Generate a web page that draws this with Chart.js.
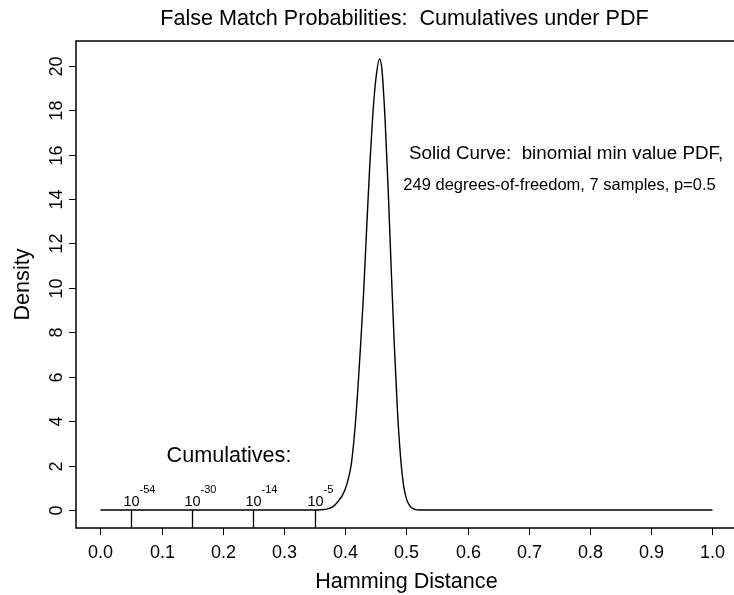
<!DOCTYPE html>
<html>
<head>
<meta charset="utf-8">
<script src="https://cdn.jsdelivr.net/npm/chart.js@4.4.1/dist/chart.umd.min.js"></script>
<style>
  html, body { margin: 0; padding: 0; background: #fff; overflow: hidden; }
  canvas { display: block; }
</style>
</head>
<body>
<canvas id="chart" width="734" height="595"></canvas>
<script>
// Hamming distance grid and density of the solid curve
const hdX = [0, 0.35, 0.36, 0.37, 0.38, 0.385, 0.39, 0.395, 0.40, 0.405, 0.41, 0.415, 0.42, 0.425,
  0.43, 0.435, 0.44, 0.445, 0.45, 0.456, 0.46, 0.465, 0.47, 0.475, 0.48, 0.485, 0.49, 0.495,
  0.50, 0.505, 0.51, 0.515, 0.52, 1.0];
const density = [0, 0, 0.01, 0.04, 0.15, 0.28, 0.45, 0.65, 0.95, 1.4, 2.1, 3.4, 5.2, 7.4,
  9.8, 12.7, 15.5, 17.8, 19.4, 20.3, 19.8, 17.6, 14.5, 10.9, 7.5, 4.6, 2.5, 1.15,
  0.5, 0.2, 0.07, 0.02, 0, 0];

// cumulative markers
const cumX = [0.05, 0.15, 0.25, 0.35];
const cumExp = ["-54", "-30", "-14", "-5"];

// axis ticks
const xTicks = [0.0, 0.1, 0.2, 0.3, 0.4, 0.5, 0.6, 0.7, 0.8, 0.9, 1.0];
const yTicks = [0, 2, 4, 6, 8, 10, 12, 14, 16, 18, 20];

const FONT = '"Liberation Sans", Arial, Helvetica, sans-serif';

// R-style frame, ticks, labels and annotations
const rPlot = {
  id: "rPlot",
  afterDraw(chart) {
    const ctx = chart.ctx;
    const a = chart.chartArea;
    const xs = chart.scales.x;
    const ys = chart.scales.y;
    ctx.save();
    ctx.strokeStyle = "#000";
    ctx.fillStyle = "#000";

    // box (right edge falls just off the canvas)
    ctx.lineWidth = 1.5;
    ctx.beginPath();
    ctx.moveTo(chart.width + 2, a.top);
    ctx.lineTo(a.left, a.top);
    ctx.lineTo(a.left, a.bottom);
    ctx.lineTo(chart.width + 2, a.bottom);
    ctx.stroke();

    // x axis ticks
    ctx.lineWidth = 1;
    ctx.font = "18px " + FONT;
    ctx.textAlign = "center";
    ctx.textBaseline = "alphabetic";
    xTicks.forEach(function (t) {
      const px = Math.round(xs.getPixelForValue(t)) + 0.5;
      ctx.beginPath();
      ctx.moveTo(px, a.bottom);
      ctx.lineTo(px, a.bottom + 7);
      ctx.stroke();
      ctx.fillText(t.toFixed(1), px, a.bottom + 30);
    });

    // y axis ticks, labels rotated
    yTicks.forEach(function (t) {
      const py = Math.round(ys.getPixelForValue(t)) + 0.5;
      ctx.beginPath();
      ctx.moveTo(a.left, py);
      ctx.lineTo(a.left - 7, py);
      ctx.stroke();
      ctx.save();
      ctx.translate(a.left - 14.5, py);
      ctx.rotate(-Math.PI / 2);
      ctx.fillText(String(t), 0, 0);
      ctx.restore();
    });

    // axis titles and main title
    const midX = (xs.getPixelForValue(-0.04) + xs.getPixelForValue(1.04)) / 2;
    ctx.font = "21.6px " + FONT;
    ctx.fillText("Hamming Distance", midX, 588);
    ctx.save();
    ctx.translate(29, (a.top + a.bottom) / 2);
    ctx.rotate(-Math.PI / 2);
    ctx.fillText("Density", 0, 0);
    ctx.restore();
    ctx.fillText("False Match Probabilities:  Cumulatives under PDF", midX - 2, 25);

    // annotation
    ctx.font = "18.8px " + FONT;
    ctx.fillText("Solid Curve:  binomial min value PDF,", 566, 159);
    ctx.font = "16.5px " + FONT;
    ctx.fillText("249 degrees-of-freedom, 7 samples, p=0.5", 559.5, 190);

    // cumulative markers
    ctx.font = "21.6px " + FONT;
    ctx.fillText("Cumulatives:", 229, 462);
    const y0 = ys.getPixelForValue(0);
    cumX.forEach(function (cx, i) {
      const px = Math.round(xs.getPixelForValue(cx)) + 0.5;
      ctx.lineWidth = 1.3;
      ctx.beginPath();
      ctx.moveTo(px, y0);
      ctx.lineTo(px, a.bottom);
      ctx.stroke();
      ctx.font = "14.5px " + FONT;
      ctx.textAlign = "center";
      const w = ctx.measureText("10").width;
      ctx.fillText("10", px, y0 - 4);
      ctx.font = "11px " + FONT;
      ctx.textAlign = "left";
      ctx.fillText(cumExp[i], px + w / 2, y0 - 17);
    });
    ctx.restore();
  }
};

const points = hdX.map(function (x, i) { return { x: x, y: density[i] }; });

new Chart(document.getElementById("chart").getContext("2d"), {
  type: "scatter",
  data: {
    datasets: [{
      data: points,
      showLine: true,
      borderColor: "#000",
      borderWidth: 1.4,
      pointRadius: 0,
      cubicInterpolationMode: "monotone",
      fill: false
    }]
  },
  options: {
    responsive: false,
    animation: false,
    devicePixelRatio: 1,
    layout: { padding: { left: 76, top: 41, right: 0, bottom: 67 } },
    plugins: { legend: { display: false }, title: { display: false }, tooltip: { enabled: false } },
    scales: {
      // chart area is 658 px wide at 612 px per unit, so the R frame (-0.04..1.04) runs past the right edge
      x: { type: "linear", min: -0.04, max: 1.0352, display: false },
      y: { type: "linear", min: -0.81, max: 21.11, display: false }
    }
  },
  plugins: [rPlot]
});
</script>
</body>
</html>
